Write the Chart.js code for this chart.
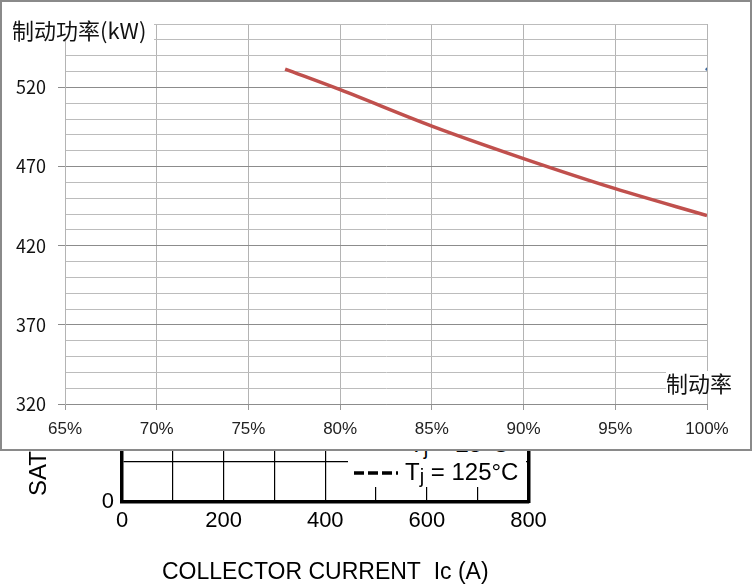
<!DOCTYPE html>
<html lang="zh">
<head>
<meta charset="UTF-8">
<title>制动功率</title>
<script src="https://cdn.jsdelivr.net/npm/chart.js@4.4.1/dist/chart.umd.min.js"></script>
<style>
  body { margin: 0; width: 752px; height: 586px; background: #fff; position: relative; overflow: hidden;
         font-family: "Liberation Sans", Arial, sans-serif; color: #000; }
  #backWrap { position: absolute; left: 0; top: 0; width: 752px; height: 586px; z-index: 0; }
  .legendBox { position: absolute; left: 348px; top: 425px; width: 178px; height: 62px; background: #fff; z-index: 1; }
  .legendText { position: absolute; font-size: 24px; line-height: 26px; white-space: nowrap; z-index: 1; }
  .legendText sub { font-size: 20px; vertical-align: -3px; }
  .satLabel { position: absolute; left: 24px; top: 496px; font-size: 24px; line-height: 28px;
              transform: rotate(-90deg); transform-origin: left top; white-space: nowrap; z-index: 1; }
  #frontWrap { position: absolute; left: 0; top: 0; width: 752px; height: 451px; background: #fff; z-index: 2; }
  #frontBorder { position: absolute; left: 0; top: 0; width: 752px; height: 451px; box-sizing: border-box;
                 border: 2px solid #8a8a8a; z-index: 4; pointer-events: none; }
  .cnTitle { position: absolute; font-family: "Noto Sans CJK SC", sans-serif; font-size: 22px; line-height: 22px;
             background: #fff; color: #111; white-space: nowrap; z-index: 3; }
</style>
</head>
<body>
<!-- 下层：被遮住的 Vce(sat)-Ic 曲线图 -->
<div id="backWrap"><canvas id="backChart" width="752" height="586"></canvas></div>
<div class="satLabel">SAT</div>
<div class="legendBox"></div>
<div class="legendText" style="left:409px; top:431px;">T<sub>j</sub> = 25°C</div>
<svg style="position:absolute; left:350px; top:466px; z-index:1;" width="52" height="14">
  <line x1="4" y1="7" x2="48" y2="7" stroke="#000" stroke-width="3.3" stroke-dasharray="10,4"/>
</svg>
<div class="legendText" style="left:405px; top:459px;">T<sub>j</sub> = 125°C</div>

<!-- 上层：制动功率图 -->
<div id="frontWrap"><canvas id="powerChart" width="752" height="451"></canvas></div>
<div class="cnTitle" style="left:12px; top:18px; padding-right:8px;">制动功率(kW)</div>
<div class="cnTitle" style="left:666px; top:371px;">制动率</div>
<div id="frontBorder"></div>

<script>
// 制动率 (%) 与制动功率 (kW)
const brakeRate = [77, 80, 85, 90, 95, 100];
const brakePower = [531.5, 518.5, 495.5, 475, 456, 439];
// 第二个系列只有一个点
const markerRate = [100];
const markerPower = [531.5];
// 坐标轴刻度
const rateTicks = [65, 70, 75, 80, 85, 90, 95, 100];
const powerTicks = [320, 370, 420, 470, 520];
const powerMax = 560;
// 下层图的刻度
const currentTicks = [0, 200, 400, 600, 800];
const vceTicks = [0];

function isMajor(v) {
    return powerTicks.includes(v);
}

new Chart(document.getElementById('powerChart'), {
    type: 'scatter',
    data: {
        datasets: [{
            data: brakeRate.map((r, i) => ({ x: r, y: brakePower[i] })),
            showLine: true,
            borderColor: '#c0504d',
            borderWidth: 3.5,
            pointRadius: 0,
            cubicInterpolationMode: 'monotone'
        }, {
            data: markerRate.map((r, i) => ({ x: r, y: markerPower[i] })),
            showLine: false,
            pointRadius: 1.6,
            backgroundColor: '#3f6a9e',
            borderWidth: 0
        }]
    },
    options: {
        responsive: false,
        animation: false,
        layout: { padding: { left: 0, top: 24, right: 45, bottom: 0 } },
        plugins: { legend: { display: false }, tooltip: { enabled: false } },
        scales: {
            x: {
                type: 'linear',
                min: rateTicks[0],
                max: rateTicks[rateTicks.length - 1],
                afterFit: s => { s.height = 47; },
                ticks: {
                    stepSize: 5,
                    padding: 9,
                    color: '#222',
                    font: { family: 'Liberation Sans', size: 17 },
                    callback: v => v + '%'
                },
                grid: { color: '#b4b4b4', tickLength: 6, tickColor: '#999' },
                border: { color: '#8c8c8c' }
            },
            y: {
                type: 'linear',
                min: powerTicks[0],
                max: powerMax,
                afterFit: s => { s.width = 65; },
                ticks: {
                    stepSize: 10,
                    autoSkip: false,
                    maxTicksLimit: 100,
                    padding: 12,
                    color: '#111',
                    font: { family: 'Noto Sans CJK SC', size: 18 },
                    callback: v => isMajor(v) ? String(v) : ''
                },
                grid: {
                    tickLength: 7,
                    color: c => c.tick && isMajor(c.tick.value) ? '#8c8c8c' : '#bcbcbc',
                    tickColor: c => c.tick && isMajor(c.tick.value) ? '#8c8c8c' : 'rgba(0,0,0,0)'
                },
                border: { color: '#b4b4b4' }
            }
        }
    }
});

new Chart(document.getElementById('backChart'), {
    type: 'scatter',
    data: { datasets: [] },
    options: {
        responsive: false,
        animation: false,
        layout: { padding: { left: 0, top: 302, right: 0, bottom: 0 } },
        plugins: { legend: { display: false }, tooltip: { enabled: false } },
        scales: {
            x: {
                type: 'linear',
                min: currentTicks[0],
                max: currentTicks[currentTicks.length - 1],
                afterFit: s => { s.height = 84; },
                ticks: {
                    stepSize: 100,
                    autoSkip: false,
                    maxRotation: 0,
                    padding: 6,
                    color: '#000',
                    font: { family: 'Liberation Sans', size: 22 },
                    callback: v => currentTicks.includes(v) ? String(v) : ''
                },
                grid: { color: '#000', lineWidth: 1.2, drawTicks: false },
                border: { color: '#000', width: 3.5 },
                title: {
                    display: true,
                    text: 'COLLECTOR CURRENT  Ic (A)',
                    color: '#000',
                    font: { family: 'Liberation Sans', size: 23 },
                    padding: { top: 0, bottom: 0 }
                }
            },
            y: {
                type: 'linear',
                min: 0,
                max: 5,
                afterFit: s => { s.width = 122; },
                ticks: {
                    stepSize: 1,
                    padding: 8,
                    color: '#000',
                    font: { family: 'Liberation Sans', size: 22 },
                    callback: v => vceTicks.includes(v) ? String(v) : ''
                },
                grid: { color: '#000', lineWidth: 1.2, drawTicks: false },
                border: { color: '#000', width: 3.5 }
            },
            y2: {
                type: 'linear',
                position: 'right',
                display: true,
                min: 0,
                max: 5,
                afterFit: s => { s.width = 223.5; },
                ticks: { display: false },
                grid: { drawOnChartArea: false, drawTicks: false },
                border: { color: '#000', width: 3.5 }
            }
        }
    }
});
</script>
</body>
</html>
